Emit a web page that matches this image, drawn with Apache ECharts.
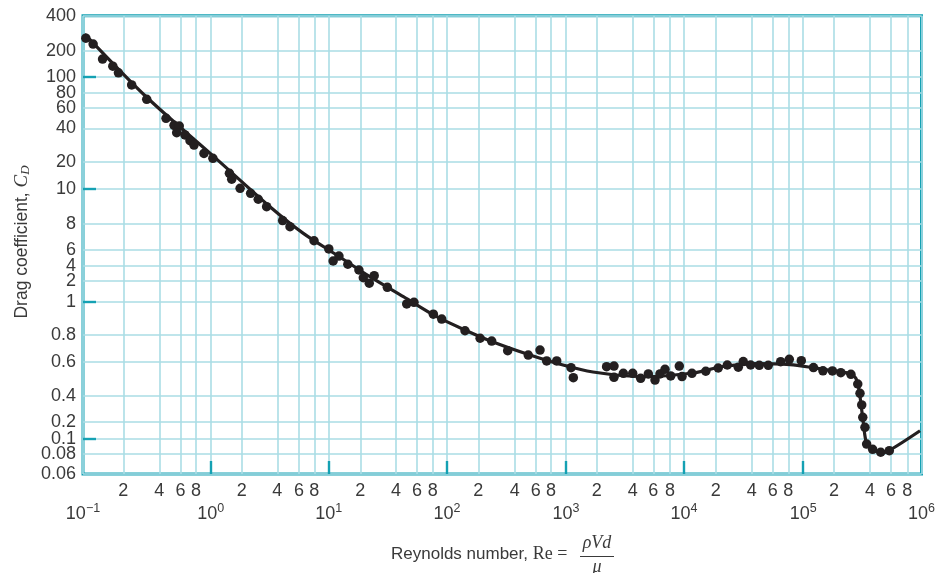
<!DOCTYPE html>
<html><head><meta charset="utf-8">
<script src="https://cdn.jsdelivr.net/npm/echarts@6/dist/echarts.min.js"></script>
<style>html,body{margin:0;padding:0;background:#fff}#c{width:938px;height:573px}</style>
</head><body><div id="c"></div>
<script>
// ---------------- data ----------------
// measured points: Reynolds number and drag coefficient
const measuredRe = [0.105,0.119,0.140,0.167,0.184,0.235,0.314,0.455,0.530,0.586,0.558,0.652,0.716,0.771,0.903,
  1.05,1.52,1.60,1.93,2.38,2.76,3.25,4.42,5.07,7.96,10.0,11.0,12.5,15.2,19.4,21.2,23.8,26.2,33.8,49.2,56.6,80.8,92.1,
  149,207,258,350,519,650,737,871,1120,1180,2420,2790,2790,3340,4000,4680,5440,6180,6730,7340,8090,9280,9690,
  11900,16100,21000,25000,30900,34000,39200,46300,55100,69500,81200,97200,126000,156000,193000,228000,277000,
  316000,330000,341000,348000,363000,375000,421000,492000,581000];
const measuredCd = [257,229,161,133,111,89.3,70.9,48.9,42.6,42.0,36.7,35.0,31.1,28.4,23.9,
  21.6,14.9,12.8,10.1,9.71,9.35,8.92,8.16,7.74,6.64,6.07,4.54,5.15,4.18,3.31,2.30,1.84,2.53,1.61,0.985,0.996,0.920,0.891,
  0.824,0.774,0.751,0.676,0.645,0.681,0.605,0.605,0.559,0.497,0.566,0.570,0.499,0.523,0.523,0.493,0.519,0.483,0.519,0.548,0.507,0.570,0.503,
  0.523,0.536,0.557,0.577,0.562,0.601,0.577,0.575,0.575,0.600,0.616,0.607,0.560,0.539,0.538,0.527,0.517,
  0.461,0.413,0.314,0.225,0.160,0.0928,0.0858,0.0821,0.0840];
// fitted curve
const curveRe = [0.103,0.314,1.06,3.59,6.51,11.9,24.1,46.1,85.2,166,265,507,915,1840,4900,
  12200,23000,44300,82100,125000,225000,277000,310000,330000,352000,375000,426000,501000,589000,977000];
const curveCd = [279,73.7,22.6,8.83,7.20,5.29,2.42,1.18,0.905,0.816,0.743,0.652,0.582,0.531,0.503,
  0.525,0.567,0.587,0.580,0.559,0.531,0.519,0.483,0.393,0.188,0.0938,0.0849,0.0816,0.0849,0.139];

// tick values and labels
const xTickValues = [0.1,0.2,0.4,0.6,0.8, 1,2,4,6,8, 10,20,40,60,80, 100,200,400,600,800,
  1000,2000,4000,6000,8000, 1e4,2e4,4e4,6e4,8e4, 1e5,2e5,4e5,6e5,8e5, 1e6];
const xDecadeValues = [0.1,1,10,100,1000,1e4,1e5,1e6];
const xDecadeExponents = ['\u22121','0','1','2','3','4','5','6'];
const yTickValues = [0.06,0.08,0.1,0.2,0.4,0.6,0.8,1,2,4,6,8,10,20,40,60,80,100,200,400];
const yTickLabels = ['0.06','0.08','0.1','0.2','0.4','0.6','0.8','1','2','4','6','8','10','20','40','60','80','100','200','400'];
const yMajorValues = [0.1,1,10,100];

// ---------------- printed (stretched) scale of the figure ----------------
// where each tick value sits along its axis (axis units)
const xScaleStops = [0,40.3,76.3,97.5,113, 127.7,158.7,194.3,216,231.3, 245.8,277.3,313,334,349.7, 364,395.3,431.7,452.8,468,
  483,513.7,549.7,570.3,587, 601,632.7,668.7,689.7,705.3, 720.2,751,787,808,824.3, 838.5];
const yScaleStops = [0,20,35,52.3,78,112.3,138.8,172.3,193.3,208,224,250.3,285.3,312,345.5,366,381,397.3,423,458.3];

function makeScale(values, stops) {
  const lv = values.map(Math.log10);
  return function (v) {
    const l = Math.log10(v);
    let i = 0;
    while (i < lv.length - 2 && l > lv[i + 1]) i++;
    const t = (l - lv[i]) / (lv[i + 1] - lv[i]);
    return stops[i] + t * (stops[i + 1] - stops[i]);
  };
}
const sx = makeScale(xTickValues, xScaleStops);
const sy = makeScale(yTickValues, yScaleStops);

function nearestIndex(arr, v) {
  let best = 0;
  for (let i = 1; i < arr.length; i++) if (Math.abs(arr[i] - v) < Math.abs(arr[best] - v)) best = i;
  return best;
}

const xGrid = xTickValues.map(sx);
const xMinorVals = xTickValues.filter(v => xDecadeValues.indexOf(v) < 0);
const xMinorPos = xMinorVals.map(sx);
const xDecadePos = xDecadeValues.map(sx);
const yGrid = yTickValues.map(sy);
const yMajorPos = yMajorValues.map(sy);

const TEAL = '#14a1b3';
const GRID = '#aadde5';
const INK = '#231f20';
const TXT = '#3a3a3a';

const chart = echarts.init(document.getElementById('c'), null, {renderer: 'canvas'});
const xRange = [xScaleStops[0], xScaleStops[xScaleStops.length - 1]];
const yRange = [yScaleStops[0], yScaleStops[yScaleStops.length - 1]];

chart.setOption({
  backgroundColor: '#fff',
  animation: false,
  grid: {left: 83, right: 16.5, top: 15.7, bottom: 99, show: true, borderColor: TEAL, borderWidth: 3,
         backgroundColor: 'transparent', outerBoundsMode: 'none', containLabel: false},
  xAxis: [
    {type: 'value', min: xRange[0], max: xRange[1], position: 'bottom',
     axisLine: {show: false},
     axisTick: {show: false, customValues: xGrid},
     splitLine: {show: true, lineStyle: {color: GRID, width: 1.6}},
     axisLabel: {customValues: xMinorPos, margin: 8, fontSize: 18, color: TXT, fontFamily: 'Liberation Sans',
       formatter: v => { const val = xMinorVals[nearestIndex(xMinorPos, v)]; return String(Math.round(val / Math.pow(10, Math.floor(Math.log10(val) + 1e-9)))); }}
    },
    {type: 'value', min: xRange[0], max: xRange[1], position: 'bottom',
     axisLine: {show: false},
     axisTick: {show: true, inside: true, length: 13, customValues: xDecadePos.slice(1, -1), lineStyle: {color: TEAL, width: 2.4}},
     splitLine: {show: false},
     axisLabel: {customValues: xDecadePos, margin: 28, color: TXT, fontFamily: 'Liberation Sans',
       formatter: v => '{b|10}{s|' + xDecadeExponents[nearestIndex(xDecadePos, v)] + '}',
       rich: {b: {fontSize: 18, lineHeight: 24, color: TXT, fontFamily: 'Liberation Sans'},
              s: {fontSize: 12.5, lineHeight: 12, verticalAlign: 'top', color: TXT, fontFamily: 'Liberation Sans'}}}
    }
  ],
  yAxis: [
    {type: 'value', min: yRange[0], max: yRange[1], position: 'left',
     axisLine: {show: false},
     axisTick: {show: false, customValues: yGrid},
     splitLine: {show: true, lineStyle: {color: GRID, width: 1.6}},
     axisLabel: {customValues: yGrid, margin: 7, fontSize: 18, color: TXT, fontFamily: 'Liberation Sans',
       formatter: v => yTickLabels[nearestIndex(yGrid, v)]}
    },
    {type: 'value', min: yRange[0], max: yRange[1], position: 'left',
     axisLine: {show: false},
     axisTick: {show: true, inside: true, length: 13, customValues: yMajorPos, lineStyle: {color: TEAL, width: 2.4}},
     splitLine: {show: false},
     axisLabel: {show: false}
    }
  ],
  series: [
    {type: 'line', name: 'curve', xAxisIndex: 0, yAxisIndex: 0,
     data: curveRe.map((r, i) => [sx(r), sy(curveCd[i])]),
     smooth: 0.3, showSymbol: false, symbol: 'none',
     lineStyle: {color: INK, width: 3.2}, z: 3},
    {type: 'scatter', name: 'measured', xAxisIndex: 0, yAxisIndex: 0,
     data: measuredRe.map((r, i) => [sx(r), sy(measuredCd[i])]),
     symbol: 'circle', symbolSize: 9.5, itemStyle: {color: INK, opacity: 1}, z: 4}
  ],
  graphic: [
    {type: 'text', x: 22, y: 242, rotation: Math.PI / 2,
     style: {text: 'Drag coefficient, {it|C}{sub|D}', fill: TXT, font: '17.5px "Liberation Sans"',
       align: 'center', verticalAlign: 'middle',
       rich: {it: {fontFamily: 'Liberation Serif', fontStyle: 'italic', fontSize: 19, fill: TXT, lineHeight: 20},
              sub: {fontFamily: 'Liberation Serif', fontStyle: 'italic', fontSize: 13, fill: TXT, verticalAlign: 'bottom', lineHeight: 14}}}},
    {type: 'text', x: 391, y: 554,
     style: {text: 'Reynolds number, {rm|Re =}', fill: TXT, font: '17px "Liberation Sans"', align: 'left', verticalAlign: 'middle',
       rich: {rm: {fontFamily: 'Liberation Serif', fontSize: 18, fill: TXT}}}},
    {type: 'text', x: 597, y: 543,
     style: {text: '\u03c1Vd', fill: TXT, font: 'italic 18px "Liberation Serif"', align: 'center', verticalAlign: 'middle'}},
    {type: 'line', shape: {x1: 580, y1: 556.5, x2: 614, y2: 556.5}, style: {stroke: TXT, lineWidth: 1}},
    {type: 'text', x: 597, y: 567,
     style: {text: '\u03bc', fill: TXT, font: 'italic 18px "Liberation Serif"', align: 'center', verticalAlign: 'middle'}}
  ]
});
</script></body></html>
